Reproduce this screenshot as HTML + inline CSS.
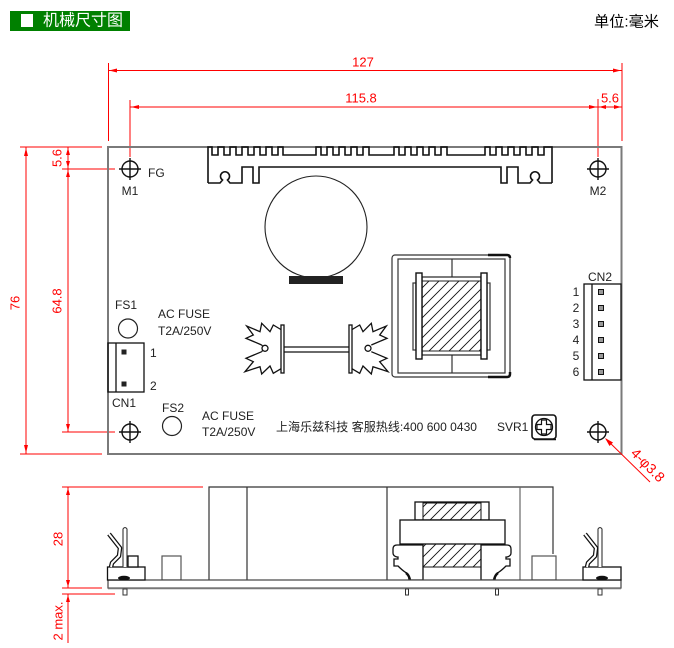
<!DOCTYPE html>
<html>
<head>
<meta charset="utf-8">
<style>
  html,body{margin:0;padding:0;background:#fff;}
  svg{display:block;}
  text{font-family:"Liberation Sans","Noto Sans CJK SC",sans-serif;}
</style>
</head>
<body>
<svg width="674" height="648" viewBox="0 0 674 648" xmlns="http://www.w3.org/2000/svg">
  <defs>
    <pattern id="hatch" patternUnits="userSpaceOnUse" width="10" height="10">
      <path d="M-1,11 L11,-1 M-6,6 L6,-6 M4,16 L16,4" stroke="#111" stroke-width="0.9"/>
    </pattern>
  </defs>
  <rect width="674" height="648" fill="#fff"/>

  <!-- Header -->
  <rect x="10" y="11" width="120" height="20" fill="#008000"/>
  <rect x="21" y="14" width="12" height="13" fill="#fff"/>
  <text x="43" y="21" font-size="16" fill="#fff" dominant-baseline="central" textLength="80" lengthAdjust="spacingAndGlyphs">机械尺寸图</text>
  <text x="594" y="22" font-size="15" fill="#000" dominant-baseline="central" textLength="65" lengthAdjust="spacingAndGlyphs">单位:毫米</text>

  <!-- Top dimensions -->
  <g stroke="#f00" stroke-width="1" fill="none">
    <line x1="108.5" y1="63" x2="108.5" y2="141"/>
    <line x1="622" y1="63" x2="622" y2="141"/>
    <line x1="108" y1="70.5" x2="622" y2="70.5"/>
    <line x1="130" y1="100" x2="130" y2="157"/>
    <line x1="598" y1="99" x2="598" y2="157"/>
    <line x1="130" y1="107" x2="622" y2="107"/>
  </g>
  <g fill="#f00">
    <polygon points="109,70.5 117,68.5 117,72.5"/>
    <polygon points="621,70.5 613,68.5 613,72.5"/>
    <polygon points="131,107 139,105 139,109"/>
    <polygon points="597,107 589,105 589,109"/>
    <polygon points="599,107 606,105 606,109"/>
    <polygon points="621,107 614,105 614,109"/>
  </g>
  <g fill="#f00" font-size="13" text-anchor="middle" dominant-baseline="central">
    <text x="363" y="62">127</text>
    <text x="361" y="98">115.8</text>
    <text x="610" y="98">5.6</text>
  </g>

  <!-- Left dimensions -->
  <g stroke="#f00" stroke-width="1" fill="none">
    <line x1="20" y1="147" x2="102" y2="147"/>
    <line x1="20" y1="454" x2="102" y2="454"/>
    <line x1="62" y1="169" x2="115" y2="169"/>
    <line x1="62" y1="432" x2="115" y2="432"/>
    <line x1="26" y1="147" x2="26" y2="454"/>
    <line x1="68" y1="147" x2="68" y2="432"/>
  </g>
  <g fill="#f00">
    <polygon points="26,148 24,156 28,156"/>
    <polygon points="26,453 24,445 28,445"/>
    <polygon points="68,148 66,155 70,155"/>
    <polygon points="68,168 66,161 70,161"/>
    <polygon points="68,170 66,177 70,177"/>
    <polygon points="68,431 66,424 70,424"/>
  </g>
  <g fill="#f00" font-size="13" text-anchor="middle" dominant-baseline="central">
    <text x="15" y="303" transform="rotate(-90 15 303)">76</text>
    <text x="57" y="301" transform="rotate(-90 57 301)">64.8</text>
    <text x="57" y="158" transform="rotate(-90 57 158)">5.6</text>
  </g>

  <!-- Board outline -->
  <rect x="108" y="147" width="513.5" height="307" fill="none" stroke="#7a7a7a" stroke-width="2"/>

  <!-- Heatsink top -->
  <path fill="none" stroke="#111" stroke-width="1.6" d="
    M208,183 V147
    H212 V155 H218 V147 H224 V155 H230 V147 H236 V155 H242 V147 H248 V155 H254 V147 H260 V155 H266 V147 H272 V155 H278 V147
    H283 V155 H316 V147
    H321 V155 H327 V147 H333 V155 H339 V147 H345 V155 H351 V147 H357 V155 H363 V147
    H369 V155 H394 V147
    H399 V155 H405 V147 H411 V155 H417 V147 H423 V155 H429 V147 H435 V155 H441 V147
    H447 V155 H485 V147
    H490 V155 H496 V147 H502 V155 H508 V147 H514 V155 H520 V147 H526 V155 H532 V147 H538 V155 H544 V147
    H552 V183"/>
  <path fill="none" stroke="#111" stroke-width="1.6" d="
    M208,183 H220 L222.5,180 A4.5,4.5 0 1 1 227.5,180 L230,183 H242 V167 H253 V183 H259 V167
    H501 V183 H507 V167 H518 V183 H530 L532.5,180 A4.5,4.5 0 1 1 537.5,180 L540,183 H552"/>

  <!-- Mounting holes -->
  <g stroke="#111" stroke-width="1.4" fill="none">
    <circle cx="130" cy="169" r="8"/>
    <line x1="119" y1="169" x2="141" y2="169"/><line x1="130" y1="158" x2="130" y2="180"/>
    <circle cx="598" cy="169" r="8"/>
    <line x1="587" y1="169" x2="609" y2="169"/><line x1="598" y1="158" x2="598" y2="180"/>
    <circle cx="130" cy="432" r="8"/>
    <line x1="119" y1="432" x2="141" y2="432"/><line x1="130" y1="421" x2="130" y2="443"/>
    <circle cx="598" cy="432" r="8"/>
    <line x1="587" y1="432" x2="609" y2="432"/><line x1="598" y1="421" x2="598" y2="443"/>
  </g>

  <!-- Labels -->
  <g fill="#222" font-size="12" dominant-baseline="central">
    <text x="148" y="173">FG</text>
    <text x="130" y="191" text-anchor="middle">M1</text>
    <text x="598" y="191" text-anchor="middle">M2</text>
    <text x="126" y="305" text-anchor="middle">FS1</text>
    <text x="158" y="314">AC FUSE</text>
    <text x="158" y="331">T2A/250V</text>
    <text x="150" y="353">1</text>
    <text x="150" y="386">2</text>
    <text x="124" y="403" text-anchor="middle">CN1</text>
    <text x="173" y="408" text-anchor="middle">FS2</text>
    <text x="202" y="416">AC FUSE</text>
    <text x="202" y="432">T2A/250V</text>
    <text x="276" y="427" textLength="201" lengthAdjust="spacingAndGlyphs">上海乐兹科技 客服热线:400 600 0430</text>
    <text x="497" y="427">SVR1</text>
    <text x="600" y="277" text-anchor="middle">CN2</text>
    <text x="576" y="292" text-anchor="middle">1</text>
    <text x="576" y="308" text-anchor="middle">2</text>
    <text x="576" y="324" text-anchor="middle">3</text>
    <text x="576" y="340" text-anchor="middle">4</text>
    <text x="576" y="356" text-anchor="middle">5</text>
    <text x="576" y="372" text-anchor="middle">6</text>
  </g>

  <!-- Capacitor -->
  <circle cx="316" cy="227" r="51" fill="none" stroke="#222" stroke-width="1.1"/>
  <rect x="289" y="276" width="54" height="8" fill="#222"/>

  <!-- Fuses -->
  <circle cx="128" cy="328.5" r="9.5" fill="none" stroke="#222" stroke-width="1.2"/>
  <circle cx="172" cy="426" r="9.5" fill="none" stroke="#222" stroke-width="1.2"/>

  <!-- CN1 -->
  <rect x="108" y="343" width="36" height="49" fill="none" stroke="#111" stroke-width="1.3"/>
  <line x1="116" y1="343" x2="116" y2="392" stroke="#111" stroke-width="1.3"/>
  <rect x="121.5" y="349.5" width="5" height="5" fill="#222"/>
  <rect x="121.5" y="381.5" width="5" height="5" fill="#222"/>

  <!-- CN2 -->
  <rect x="584" y="284" width="37" height="96" fill="none" stroke="#111" stroke-width="1.3"/>
  <line x1="592" y1="284" x2="592" y2="380" stroke="#111" stroke-width="1.3"/>
  <g fill="#999" stroke="#111" stroke-width="1">
    <rect x="598.5" y="289.5" width="5" height="5"/>
    <rect x="598.5" y="305.5" width="5" height="5"/>
    <rect x="598.5" y="321.5" width="5" height="5"/>
    <rect x="598.5" y="337.5" width="5" height="5"/>
    <rect x="598.5" y="353.5" width="5" height="5"/>
    <rect x="598.5" y="369.5" width="5" height="5"/>
  </g>

  <!-- SVR1 -->
  <rect x="532" y="415" width="24" height="24" rx="3" fill="none" stroke="#111" stroke-width="1.6"/>
  <line x1="534" y1="439.5" x2="556" y2="439.5" stroke="#111" stroke-width="1.5"/>
  <circle cx="544" cy="427" r="8.5" fill="none" stroke="#111" stroke-width="1.3"/>
  <path d="M541.5,420 H546.5 V424.5 H551 V429.5 H546.5 V434 H541.5 V429.5 H537 V424.5 H541.5 Z" fill="none" stroke="#111" stroke-width="1.2"/>

  <!-- Small heatsink -->
  <g fill="none" stroke="#111" stroke-width="1.3">
    <polyline points="281.7,330 273.3,325 270,331.7 261.7,323.3 260,331.7 246.7,326 253.3,335 246,338.3 261.7,345"/>
    <polyline points="261.7,351.7 246,358.3 253.3,361.7 245,371.7 260,366.7 261.7,374 270,366 273.3,373.3 281.7,368.3"/>
    <circle cx="265" cy="348.3" r="3"/>
    <line x1="261.7" y1="345" x2="262.5" y2="346"/>
    <line x1="261.7" y1="351.7" x2="262.5" y2="350.5"/>
    <polyline points="351.3,330 359.7,325 363,331.7 371.3,323.3 373,331.7 386.3,326 379.7,335 387,338.3 371.3,345"/>
    <polyline points="371.3,351.7 387,358.3 379.7,361.7 388,371.7 373,366.7 371.3,374 363,366 359.7,373.3 351.3,368.3"/>
    <circle cx="368" cy="348.3" r="3"/>
    <rect x="281" y="325" width="3" height="48" fill="#fff"/>
    <rect x="349" y="325" width="3" height="48" fill="#fff"/>
    <line x1="284" y1="347" x2="349" y2="347"/>
    <line x1="284" y1="352" x2="349" y2="352"/>
  </g>

  <!-- Transformer top -->
  <g fill="none" stroke="#333" stroke-width="1.2">
    <rect x="392" y="255" width="118" height="122" rx="3"/>
    <rect x="398" y="259" width="107" height="114"/>
    <line x1="452" y1="259" x2="452" y2="281"/>
    <line x1="452" y1="352" x2="452" y2="373"/>
    <rect x="413" y="283" width="3" height="67" fill="#fff"/>
    <rect x="487" y="283" width="3" height="67" fill="#fff"/>
  </g>
  <path d="M488,255 H507 Q510,255 510,258 M510,372 V374 Q510,377 507,377 H488" fill="none" stroke="#111" stroke-width="2.5"/>
  <rect x="422" y="277" width="59" height="78" fill="#fff" stroke="#222" stroke-width="1.2"/>
  <rect x="422" y="281" width="59" height="70" fill="url(#hatch)" stroke="#222" stroke-width="1"/>
  <rect x="416" y="273" width="6" height="86" fill="#fff" stroke="#111" stroke-width="1.4"/>
  <rect x="481" y="273" width="6" height="86" fill="#fff" stroke="#111" stroke-width="1.4"/>

  <!-- 4-φ3.8 leader -->
  <line x1="606" y1="439" x2="650" y2="482" stroke="#f00" stroke-width="1"/>
  <polygon points="605,438 613,442.5 609.5,446" fill="#f00"/>
  <text x="630" y="454" font-size="14" fill="#f00" transform="rotate(45 630 454)">4-φ3.8</text>

  <!-- ===== Side view ===== -->
  <g stroke="#f00" stroke-width="1" fill="none">
    <line x1="62" y1="487" x2="203" y2="487"/>
    <line x1="62" y1="588" x2="102" y2="588"/>
    <line x1="62" y1="594" x2="115" y2="594"/>
    <line x1="68" y1="487" x2="68" y2="588"/>
    <line x1="68" y1="594" x2="68" y2="643"/>
  </g>
  <g fill="#f00">
    <polygon points="68,488 66,495 70,495"/>
    <polygon points="68,587 66,580 70,580"/>
    <polygon points="68,595 66,602 70,602"/>
  </g>
  <g fill="#f00" font-size="13" text-anchor="middle" dominant-baseline="central">
    <text x="58" y="539" transform="rotate(-90 58 539)">28</text>
    <text x="58" y="621" transform="rotate(-90 58 621)">2 max.</text>
  </g>

  <!-- Big body outline -->
  <g fill="none" stroke="#333" stroke-width="1.2">
    <path d="M209,580 V487 H553 V554"/>
    <line x1="247" y1="487" x2="247" y2="580"/>
    <line x1="387" y1="487" x2="387" y2="580"/>
    <line x1="520" y1="487" x2="520" y2="580" stroke="#666"/>
  </g>

  <!-- Transformer side -->
  <rect x="415" y="502" width="74" height="18" fill="#fff" stroke="#111" stroke-width="1.3"/>
  <rect x="423" y="503" width="58" height="17" fill="url(#hatch)" stroke="#111" stroke-width="1"/>
  <rect x="400" y="520" width="105" height="24" fill="#fff" stroke="#111" stroke-width="1.3"/>
  <rect x="423" y="544" width="58" height="23" fill="url(#hatch)" stroke="#111" stroke-width="1"/>
  <g fill="#fff" stroke="#111" stroke-width="1.3">
    <path d="M423,545 H397 Q393,545 393,549 V553 Q393,556 397,557 H398 V559 H394 V566 H398 Q402,570 405,572 Q409,574 409,580 H423 Z"/>
    <path d="M481,545 H507 Q511,545 511,549 V553 Q511,556 507,557 H506 V559 H510 V566 H506 Q502,570 499,572 Q495,574 495,580 H481 Z"/>
  </g>
  <path d="M406,573 Q409,575 410,580 M498,573 Q495,575 494,580" fill="none" stroke="#111" stroke-width="2.5"/>

  <!-- Small boxes -->
  <rect x="162" y="556" width="19" height="24" fill="#fff" stroke="#555" stroke-width="1.2"/>
  <rect x="532" y="556" width="24" height="24" fill="#fff" stroke="#555" stroke-width="1.2"/>

  <!-- PCB -->
  <rect x="108" y="580" width="513" height="8" fill="#fff" stroke="#444" stroke-width="1.2"/>
  <line x1="108" y1="588.5" x2="621" y2="588.5" stroke="#777" stroke-width="1.6"/>

  <!-- Pins below -->
  <g fill="#fff" stroke="#333" stroke-width="1">
    <rect x="123" y="589" width="4" height="6"/>
    <rect x="405.5" y="589" width="3" height="6"/>
    <rect x="495.5" y="589" width="3" height="6"/>
    <rect x="598" y="589" width="4" height="6"/>
  </g>

  <!-- Left connector side -->
  <rect x="107.5" y="567" width="37.5" height="13" fill="#fff" stroke="#111" stroke-width="1.3"/>
  <rect x="128" y="556" width="10" height="11" fill="#fff" stroke="#111" stroke-width="1.3"/>
  <path d="M123,567 V529 Q125,526 127,529 V567" fill="#fff" stroke="#333" stroke-width="1.1"/>
  <ellipse cx="124" cy="578" rx="6" ry="2.2" fill="#111"/>
  <path d="M109,534 L120,548 L119,556 L112,563 L111,567" fill="none" stroke="#111" stroke-width="4.5" stroke-linejoin="round"/>
  <path d="M109,534 L120,548 L119,556 L112,563 L111,567" fill="none" stroke="#fff" stroke-width="2" stroke-linejoin="round"/>

  <!-- Right connector side -->
  <rect x="583" y="567" width="38" height="13" fill="#fff" stroke="#111" stroke-width="1.3"/>
  <path d="M598,567 V529 Q600,526 602,529 V567" fill="#fff" stroke="#333" stroke-width="1.1"/>
  <ellipse cx="602" cy="578" rx="6" ry="2.2" fill="#111"/>
  <path d="M585,534 L596,548 L595,556 L588,563 L587,567" fill="none" stroke="#111" stroke-width="4.5" stroke-linejoin="round"/>
  <path d="M585,534 L596,548 L595,556 L588,563 L587,567" fill="none" stroke="#fff" stroke-width="2" stroke-linejoin="round"/>
</svg>
</body>
</html>
